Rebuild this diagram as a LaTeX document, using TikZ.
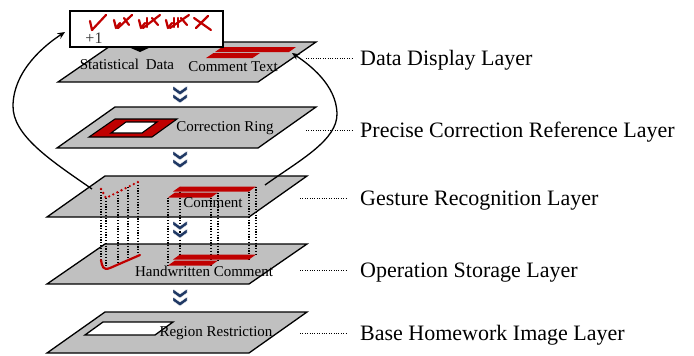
\documentclass[tikz,border=0pt]{standalone}
\usepackage{fontspec}
\setmainfont{Liberation Serif}
\usetikzlibrary{arrows.meta}
\definecolor{layergray}{HTML}{C0C0C0}
\definecolor{cred}{HTML}{C00000}
\definecolor{navy}{HTML}{1F3864}
\begin{document}
\begin{tikzpicture}[x=1pt,y=-1pt,
 layer/.style={draw=black,fill=layergray,line width=1.3pt,line join=miter},
 redfill/.style={fill=cred},
 vdot/.style={black,line width=1.1pt,dash pattern=on 1.2pt off 1.6pt},
 reddot/.style={cred,line width=2.6pt,line cap=round,dash pattern=on 0pt off 4.6pt},
 lbldot/.style={black,line width=0.8pt,dash pattern=on 1pt off 1.4pt},
 inlabel/.style={font=\fontsize{15}{17}\selectfont,inner sep=0pt,anchor=base},
 sidelabel/.style={font=\fontsize{22}{26}\selectfont,inner sep=0pt,anchor=base west},
 arr/.style={black,line width=1.3pt,-{Stealth[length=7.5pt,width=6.5pt]}},
 tally/.style={cred,line width=2.2pt,line cap=round,line join=round},
 chev/.pic={
   \path[fill=navy,draw=white,line width=0.4pt] (-7,0)--(0,5)--(7,0)--(7,4)--(0,9)--(-7,4)--cycle;
   \path[fill=navy,draw=white,line width=0.4pt] (-7,8)--(0,13)--(7,8)--(7,12)--(0,17)--(-7,12)--cycle;}
]
\useasboundingbox (0,0) rectangle (694,356);

% ---------- layers ----------
\path[layer] (58,82)--(116,42)--(316,42)--(258,82)--cycle;
\path[layer] (57,148)--(115,107)--(316,107)--(258,148)--cycle;
\path[layer] (47,217)--(105,176)--(307,176)--(249,217)--cycle;
\path[layer] (47,284)--(105,244)--(307,244)--(249,284)--cycle;
\path[layer] (47,353)--(105,312)--(307,312)--(249,353)--cycle;

% ---------- layer 1 content ----------
\path[redfill] (215,52)--(222,47)--(296,47)--(289,52)--cycle;
\path[redfill] (206,58)--(213.5,53)--(260,53)--(252.5,58)--cycle;

% ---------- layer 2 content ----------
\path[draw=black,line width=1.1pt,fill=cred] (89,137)--(115,119)--(177,119)--(152,137)--cycle;
\path[draw=black,line width=1.1pt,fill=white] (111,133)--(126,122)--(157,122)--(142,133)--cycle;

% ---------- layer 5 content ----------
\path[draw=black,line width=1.3pt,fill=white] (85,335)--(103,322)--(173,322)--(155,335)--cycle;

% ---------- vertical dotted links (layer 3 to layer 4) ----------
\foreach \x/\ya/\yb in {101/189/260, 106/198/269, 118/192/264, 128/187/259, 138/182/255,
                        168/197.5/265.5, 180/186.5/254.5, 211/197.5/265.5, 218/192.5/260.5,
                        249/191.5/259.5, 256/186.5/254.5}
  \draw[vdot] (\x,\ya) -- (\x,\yb);

% red strips layer 3
\path[redfill] (173,191.5)--(180,186.5)--(256,186.5)--(249,191.5)--cycle;
\path[redfill] (168,197.5)--(175,192.5)--(218,192.5)--(211,197.5)--cycle;
% red strips layer 4
\path[redfill] (173,259.5)--(180,254.5)--(256,254.5)--(249,259.5)--cycle;
\path[redfill] (168,265.5)--(175,260.5)--(218,260.5)--(211,265.5)--cycle;

% gesture on layer 3 (dotted) and stroke on layer 4
\draw[reddot] (101,189) -- (106,198) -- (138,182);
\draw[cred,line width=2.2pt,line cap=round] (101,260) .. controls (102,266) and (103,271) .. (110,268) -- (140,255);

% ---------- chevrons ----------
\pic at (180,86) {chev};
\pic at (180,151) {chev};
\pic at (180,221) {chev};
\pic at (180,289) {chev};

% ---------- inner labels ----------
\node[inlabel] (stat) at (127,69) {Statistical\hspace{0.45em}Data};
\node[inlabel] (ctext) at (233,71) {Comment Text};
\node[inlabel] (ring) at (225,131) {Correction Ring};
\node[inlabel] (comm) at (213,207) {Comment};
\node[inlabel] (hw) at (204,276) {Handwritten Comment};
\node[inlabel] (reg) at (216,336) {Region Restriction};

% ---------- score box ----------
\node[draw=black,line width=1.5pt,fill=white,minimum width=153pt,minimum height=36pt,inner sep=0pt,anchor=north west] (box) at (69,10) {};
\path[fill=black] (126,46)--(153,46)--(140,52)--cycle;
\node[font=\fontsize{16}{18}\selectfont,text=black!80,inner sep=0pt,anchor=base] (plus) at (94,43) {+1};
% tally marks
\draw[tally] (90,21) -- (92,30) -- (106,15);
\draw[tally] (114,20) -- (116,28) -- (120,23);
\draw[tally] (118,28) -- (132,15);
\draw[tally] (124,18) -- (129,25);
\draw[tally] (139,20) -- (141,28) -- (145,23);
\draw[tally] (147,18) -- (147,27);
\draw[tally] (143,28) -- (160,15);
\draw[tally] (152,18) -- (158,25);
\draw[tally] (166,20) -- (168,28) -- (172,23);
\draw[tally] (174,18) -- (174,27);
\draw[tally] (178,18) -- (178,27);
\draw[tally] (170,28) -- (189,15);
\draw[tally] (181,18) -- (187,25);
\draw[tally] (194,18) -- (211,30);
\draw[tally] (196,28) -- (208,16);

% ---------- arrows ----------
\coordinate (ls) at (92,189);
\coordinate (lt) at (65,32);
\coordinate (rs) at (265,185);
\coordinate (rt) at (292,53);
\draw[arr] (ls) .. controls (50,160) and (12,135) .. (13,105) .. controls (14,70) and (45,45) .. (lt);
\draw[arr] (rs) .. controls (300,160) and (338,140) .. (337,113) .. controls (336,85) and (310,65) .. (rt);

% ---------- side labels ----------
\node[sidelabel] (L1) at (360,65) {Data Display Layer};
\node[sidelabel] (L2) at (360,137) {Precise Correction Reference Layer};
\node[sidelabel] (L3) at (360,205) {Gesture Recognition Layer};
\node[sidelabel] (L4) at (360,277) {Operation Storage Layer};
\node[sidelabel] (L5) at (360,340) {Base Homework Image Layer};
\coordinate (d1) at (306,58);
\coordinate (d2) at (306,130);
\coordinate (d3) at (300,198);
\coordinate (d4) at (300,270);
\coordinate (d5) at (300,333);
\draw[lbldot] (d1) -- (d1 -| 352,0);
\draw[lbldot] (d2) -- (d2 -| 352,0);
\draw[lbldot] (d3) -- (d3 -| 346,0);
\draw[lbldot] (d4) -- (d4 -| 346,0);
\draw[lbldot] (d5) -- (d5 -| 346,0);
\end{tikzpicture}
\end{document}
